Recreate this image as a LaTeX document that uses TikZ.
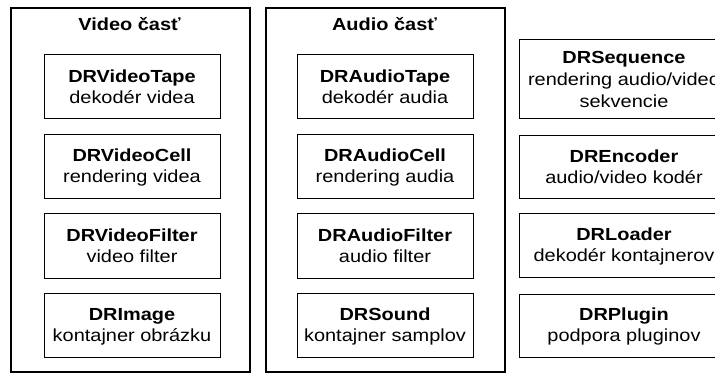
\documentclass[tikz,border=0pt]{standalone}
\usepackage{fontspec}
\setmainfont{Liberation Sans}
\usepackage{tikz}
\definecolor{drblack}{RGB}{0,0,0}
\newcommand{\drtext}[2]{\raisebox{-1.6pt}[\height][\depth]{\scalebox{1.14}[1]{\begin{tabular}{@{}c@{}}\textbf{#1}\\#2\end{tabular}}}}

\begin{document}
\begin{tikzpicture}[x=1pt,y=-1pt,
    part/.style={draw=drblack, line width=2.5pt, minimum width=239pt, minimum height=364pt, inner sep=0pt},
    parttitle/.style={anchor=base, font=\fontsize{17.5}{21}\selectfont\bfseries},
    comp/.style={draw=drblack, line width=1pt, minimum width=176pt, minimum height=64pt, inner sep=0pt,
                 font=\fontsize{17.5}{21}\selectfont}
    ]
    \fill[white] (0,0) rectangle (715,374);
    \useasboundingbox (0,0) rectangle (715,374);

    % video
    \node[part] (video) at (130.5,190) {};
    \node[parttitle] (videotitle) at (129.5,31) {\scalebox{1.14}[1]{Video časť}};
    \node[comp] (videotape) at (132,87) {\drtext{DRVideoTape}{dekodér videa}};
    \node[comp] (videocell) at (132,166.5) {\drtext{DRVideoCell}{rendering videa}};
    \node[comp] (videofilter) at (132,246) {\drtext{DRVideoFilter}{video filter}};
    \node[comp] (image) at (132,325.5) {\drtext{DRImage}{kontajner obrázku}};

    % audio
    \node[part] (audio) at (385.5,190) {};
    \node[parttitle] (audiotitle) at (384.5,31) {\scalebox{1.14}[1]{Audio časť}};
    \node[comp] (audiotape) at (385,87) {\drtext{DRAudioTape}{dekodér audia}};
    \node[comp] (audiocell) at (385,166.5) {\drtext{DRAudioCell}{rendering audia}};
    \node[comp] (audiofilter) at (385,246) {\drtext{DRAudioFilter}{audio filter}};
    \node[comp] (sound) at (385,325.5) {\drtext{DRSound}{kontajner samplov}};

    % ostatne
    \node[comp, minimum width=210pt, minimum height=79pt, font=\fontsize{17.5}{22}\selectfont] (sequence) at (624,79.5)
        {\raisebox{-1.6pt}[\height][\depth]{\scalebox{1.14}[1]{\begin{tabular}{@{}c@{}}\textbf{DRSequence}\\rendering audio/video\\sekvencie\end{tabular}}}};
    \node[comp, minimum width=210pt, minimum height=63pt] (encoder) at (624,167.5) {\drtext{DREncoder}{audio/video kodér}};
    \node[comp, minimum width=210pt, minimum height=63pt] (loader) at (624,245.5) {\drtext{DRLoader}{dekodér kontajnerov}};
    \node[comp, minimum width=210pt, minimum height=63pt] (plugin) at (624,325.5) {\drtext{DRPlugin}{podpora pluginov}};
\end{tikzpicture}
\end{document}
